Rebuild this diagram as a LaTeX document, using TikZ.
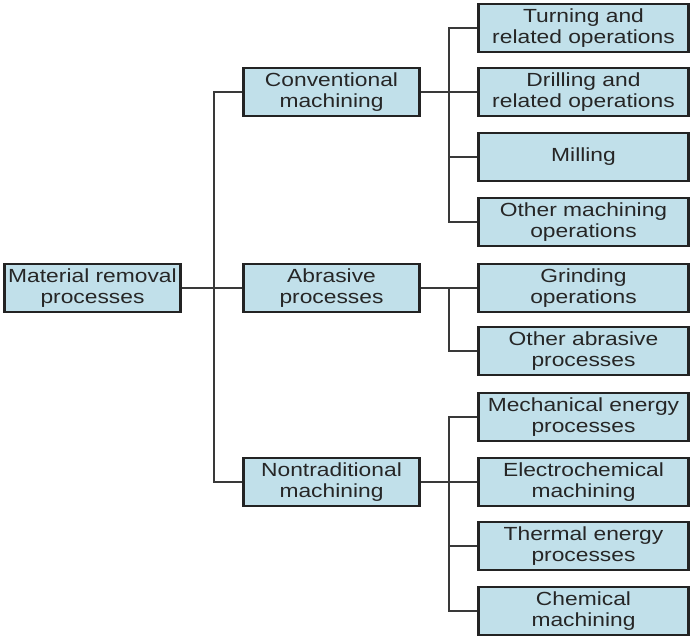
\documentclass[tikz,border=0pt]{standalone}
\usepackage{fontspec}
\setmainfont{Liberation Sans}[FakeStretch=1.2]
\usepackage{tikz}
\usetikzlibrary{positioning}
\definecolor{boxblue}{RGB}{193,224,234}
\definecolor{boxline}{RGB}{35,35,35}

\begin{document}
\begin{tikzpicture}[x=1pt,y=-1pt,-,thick,
                line width=1.4pt,draw=boxline!90,
                main node/.style={rectangle,draw=boxline,fill=boxblue,line width=2.6pt,
                  align=center,inner sep=0pt,minimum height=48pt,text=black!85,
                  font=\fontsize{19}{21}\selectfont},
                left node/.style={main node,minimum width=176pt},
                right node/.style={main node,minimum width=210pt}]

  \useasboundingbox (0,0) rectangle (692,638);

  \node[left node] (root) at (92.5,288) {Material removal\\processes};
  \node[left node] (conv) at (331.5,92) {Conventional\\machining};
  \node[left node] (abr) at (331.5,288) {Abrasive\\processes};
  \node[left node] (nontrad) at (331.5,482) {Nontraditional\\machining};

  \node[right node] (turn) at (583.5,28) {Turning and\\related operations};
  \node[right node] (drill) at (583.5,92) {Drilling and\\related operations};
  \node[right node] (mill) at (583.5,157) {Milling};
  \node[right node] (othmach) at (583.5,222) {Other machining\\operations};
  \node[right node] (grind) at (583.5,288) {Grinding\\operations};
  \node[right node] (othabr) at (583.5,351) {Other abrasive\\processes};
  \node[right node] (mech) at (583.5,417) {Mechanical energy\\processes};
  \node[right node] (electro) at (583.5,482) {Electrochemical\\machining};
  \node[right node] (thermal) at (583.5,546) {Thermal energy\\processes};
  \node[right node] (chem) at (583.5,611) {Chemical\\machining};

  \coordinate (trunk) at (214,288);
  \coordinate (b1) at (449,92);
  \coordinate (b2) at (449,288);
  \coordinate (b3) at (449,482);

  \draw (root) -- (trunk);
  \draw (trunk) |- (conv);
  \draw (trunk) -- (abr);
  \draw (trunk) |- (nontrad);

  \draw (conv) -- (b1);
  \draw (b1) |- (turn);
  \draw (b1) -- (drill);
  \draw (b1) |- (mill);
  \draw (b1) |- (othmach);

  \draw (abr) -- (b2);
  \draw (b2) -- (grind);
  \draw (b2) |- (othabr);

  \draw (nontrad) -- (b3);
  \draw (b3) |- (mech);
  \draw (b3) -- (electro);
  \draw (b3) |- (thermal);
  \draw (b3) |- (chem);

\end{tikzpicture}
\end{document}
